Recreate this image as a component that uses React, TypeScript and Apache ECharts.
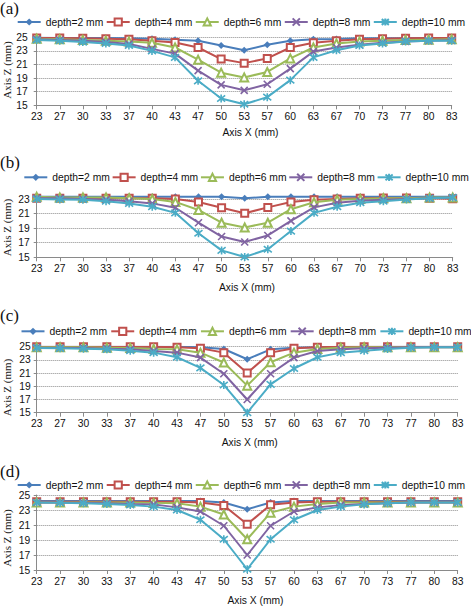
import React, { useEffect, useRef } from 'react';
import * as echarts from 'echarts';

// ---------- data ----------
const categories = ['23', '27', '30', '33', '37', '40', '43', '47', '50', '53', '57', '60', '63', '67', '70', '73', '77', '80', '83'];
const seriesNames = ['depth=2 mm', 'depth=4 mm', 'depth=6 mm', 'depth=8 mm', 'depth=10 mm'];
const panelLabels = ['(a)', '(b)', '(c)', '(d)'];
const xTitle = 'Axis X (mm)';
const yTitle = 'Axis Z (mm)';
const yMin = 15;
const yInterval = 2;
const yMaxA = 25;
const yMaxB = 23.4;
const yMaxC = 25;
const yMaxD = 25;

// panel (a)
const a2 = [24.95, 24.9, 24.9, 24.9, 24.85, 24.8, 24.65, 24.5, 23.8, 23.1, 23.9, 24.5, 24.7, 24.75, 24.85, 24.85, 24.85, 24.9, 24.9];
const a4 = [24.9, 24.9, 24.85, 24.8, 24.7, 24.5, 24.25, 23.5, 21.8, 21.2, 21.9, 23.5, 24.2, 24.5, 24.7, 24.8, 24.85, 24.9, 24.9];
const a6 = [24.8, 24.7, 24.6, 24.5, 24.4, 24.2, 23.5, 21.7, 19.8, 19.1, 19.9, 21.9, 23.5, 24.1, 24.4, 24.5, 24.6, 24.65, 24.7];
const a8 = [24.7, 24.6, 24.5, 24.3, 24.0, 23.3, 22.6, 20.1, 18.0, 17.2, 18.1, 20.4, 22.9, 23.5, 23.9, 24.2, 24.4, 24.5, 24.55];
const a10 = [24.6, 24.5, 24.3, 24.1, 23.8, 23.0, 22.05, 18.6, 16.0, 15.15, 16.2, 18.7, 22.05, 23.1, 23.8, 24.1, 24.4, 24.5, 24.5];

// panel (b)
const b2 = [23.3, 23.3, 23.3, 23.3, 23.3, 23.3, 23.3, 23.3, 23.3, 23.1, 23.3, 23.3, 23.3, 23.3, 23.3, 23.3, 23.3, 23.3, 23.3];
const b4 = [23.1, 23.1, 23.1, 23.1, 23.1, 23.1, 23.0, 22.6, 21.8, 21.05, 21.85, 22.6, 22.9, 23.0, 23.1, 23.15, 23.15, 23.1, 23.05];
const b6 = [23.3, 23.2, 23.2, 23.2, 23.1, 23.0, 22.6, 21.5, 19.75, 19.1, 19.75, 21.6, 22.55, 22.9, 23.0, 23.1, 23.1, 23.2, 23.2];
const b8 = [23.1, 23.1, 23.0, 22.9, 22.7, 22.4, 21.8, 19.75, 17.85, 17.1, 18.0, 20.0, 21.85, 22.5, 22.75, 22.9, 23.0, 23.1, 23.2];
const b10 = [23.0, 22.95, 22.9, 22.7, 22.4, 21.95, 21.1, 18.3, 15.95, 15.05, 16.1, 18.6, 21.1, 21.95, 22.5, 22.7, 22.95, 23.1, 23.2];

// panel (c)
const c2 = [25, 25, 25, 25, 25, 25, 25, 24.9, 24.65, 23.1, 24.6, 24.85, 24.9, 24.95, 25, 25, 25, 25, 25];
const c4 = [25, 25, 25, 25, 25, 25, 24.9, 24.75, 24.1, 21.0, 24.1, 24.75, 24.9, 25, 25, 25, 25, 25, 25];
const c6 = [24.9, 24.9, 24.9, 24.85, 24.8, 24.65, 24.6, 24.1, 22.6, 19.1, 22.65, 24.1, 24.65, 24.85, 24.9, 24.9, 24.9, 24.9, 24.9];
const c8 = [24.85, 24.8, 24.8, 24.7, 24.6, 24.35, 24.1, 23.35, 20.9, 17.0, 20.9, 23.35, 24.35, 24.6, 24.75, 24.85, 24.9, 24.9, 24.9];
const c10 = [24.8, 24.75, 24.7, 24.6, 24.4, 24.1, 23.4, 21.8, 19.2, 15.0, 19.3, 21.7, 23.4, 24.1, 24.4, 24.65, 24.85, 24.9, 24.9];

// panel (d)
const d2 = [24.2, 24.2, 24.2, 24.2, 24.2, 24.2, 24.2, 24.2, 24.0, 23.1, 24.0, 24.2, 24.2, 24.2, 24.2, 24.2, 24.2, 24.2, 24.2];
const d4 = [24.1, 24.1, 24.1, 24.1, 24.1, 24.1, 24.1, 24.0, 23.6, 21.1, 23.7, 24.0, 24.1, 24.1, 24.1, 24.1, 24.1, 24.1, 24.1];
const d6 = [24.0, 24.0, 24.0, 24.0, 24.0, 23.95, 23.9, 23.45, 22.4, 19.1, 22.65, 23.45, 23.8, 24.0, 24.0, 24.0, 24.0, 24.0, 24.0];
const d8 = [24.0, 24.0, 23.95, 23.9, 23.8, 23.75, 23.35, 22.8, 20.9, 17.0, 20.9, 22.8, 23.35, 23.65, 23.8, 23.9, 24.0, 24.0, 24.0];
const d10 = [24.0, 23.95, 23.9, 23.8, 23.67, 23.45, 23.0, 21.7, 19.1, 15.1, 19.1, 21.7, 23.0, 23.45, 23.75, 23.9, 24.0, 24.0, 24.0];

const panelData = [
  [a2, a4, a6, a8, a10],
  [b2, b4, b6, b8, b10],
  [c2, c4, c6, c8, c10],
  [d2, d4, d6, d8, d10],
];
const panelYMax = [yMaxA, yMaxB, yMaxC, yMaxD];

// ---------- layout & style ----------
const W = 471;
const H = 606;
const SANS = 'Liberation Sans, Arial, sans-serif';
const SERIF = 'Liberation Serif, Times New Roman, serif';
const FS = 10.3;

const layout = [
  { gridLeft: 36.7, gridRight: 19.3, gridTop: 37.3, gridHeight: 68, labelTop: 0, legendLeft: 16.7, legendTop: 17, legendGap: 2.5, legendW: 23, yLabMargin: 9, yTitleX: 6.7, yTitleY: 70, xTitleX: 250.5, xTitleY: 132.7 },
  { gridLeft: 36.7, gridRight: 18.3, gridTop: 196.1, gridHeight: 61.2, labelTop: 154, legendLeft: 23.3, legendTop: 172.3, legendGap: 1.8, legendW: 23, yLabMargin: 7, yTitleX: 6.7, yTitleY: 227.5, xTitleX: 247, xTitleY: 287.7 },
  { gridLeft: 36.7, gridRight: 13.3, gridTop: 346.7, gridHeight: 66, labelTop: 307, legendLeft: 20.5, legendTop: 326.3, legendGap: 3.2, legendW: 23, yLabMargin: 6, yTitleX: 6.7, yTitleY: 387.5, xTitleX: 249.7, xTitleY: 442.7 },
  { gridLeft: 36.7, gridRight: 13.3, gridTop: 495, gridHeight: 75, labelTop: 463, legendLeft: 16.7, legendTop: 480, legendGap: 2.5, legendW: 23, yLabMargin: 6.5, yTitleX: 6.7, yTitleY: 538, xTitleX: 255.5, xTitleY: 600.7 },
];

const colors = ['#4a7ebb', '#c0504d', '#9bbb59', '#8064a2', '#4bacc6'];
const X_PATH = 'path://M0,0L10,10M10,0L0,10';
const STAR_PATH = 'path://M1,1L9,9M9,1L1,9M5,0L5,10';
const symbols = ['diamond', 'emptyRect', 'emptyTriangle', X_PATH, STAR_PATH];
const symbolSizes = [7, 7, 8, 7, 8];

const axisGray = '#8a8a8a';

export default function App() {
  const ref = useRef<HTMLDivElement>(null);

  useEffect(() => {
    if (!ref.current) return;
    const chart = echarts.init(ref.current, undefined, { renderer: 'svg' });

    const grid = layout.map((p) => ({
      left: p.gridLeft,
      right: p.gridRight,
      top: p.gridTop,
      height: p.gridHeight,
      containLabel: false,
    }));

    const xAxis = layout.map((p, i) => ({
      type: 'category',
      gridIndex: i,
      data: categories,
      boundaryGap: false,
      axisLine: { show: true, lineStyle: { color: axisGray, width: 1 } },
      axisTick: { show: true, length: 4, alignWithLabel: true, interval: 0, lineStyle: { color: axisGray } },
      axisLabel: { interval: 0, margin: 6, fontSize: FS, fontFamily: SANS, color: '#111' },
      splitLine: { show: false },
    }));

    const yAxis = layout.map((p, i) => ({
      type: 'value',
      gridIndex: i,
      min: yMin,
      max: panelYMax[i],
      interval: yInterval,
      axisLine: { show: true, lineStyle: { color: axisGray, width: 1 } },
      axisTick: { show: true, length: 3, lineStyle: { color: axisGray } },
      axisLabel: {
        margin: p.yLabMargin,
        fontSize: FS,
        fontFamily: SANS,
        color: '#111',
        formatter: (v: number) => (Number.isInteger(v) ? String(v) : ''),
      },
      splitLine: {
        show: true,
        showMaxLine: Number.isInteger(panelYMax[i]),
        lineStyle: { type: 'dotted', color: '#8c8c8c', width: 1 },
      },
    }));

    const series: any[] = [];
    panelData.forEach((rows, i) => {
      rows.forEach((vals, j) => {
        const isStroke = j >= 3;
        series.push({
          type: 'line',
          name: seriesNames[j],
          xAxisIndex: i,
          yAxisIndex: i,
          data: vals,
          symbol: symbols[j],
          symbolSize: symbolSizes[j],
          showAllSymbol: true,
          lineStyle: { width: 2, color: colors[j] },
          itemStyle: {
            color: colors[j],
            borderColor: colors[j],
            borderWidth: isStroke ? 1.6 : j === 0 ? 0 : 1.3,
          },
          emphasis: { disabled: true },
          z: 2 + j,
        });
      });
    });

    const legend = layout.map((p) => ({
      data: seriesNames,
      left: p.legendLeft,
      top: p.legendTop,
      width: 600,
      orient: 'horizontal',
      padding: 0,
      itemGap: p.legendGap,
      itemWidth: p.legendW,
      itemHeight: 9,
      textStyle: { fontSize: FS, fontFamily: SANS, color: '#111' },
      selectedMode: false,
    }));

    const graphic: any[] = [];
    layout.forEach((p, i) => {
      graphic.push({
        type: 'text',
        left: 0,
        top: p.labelTop,
        style: { text: panelLabels[i], font: `17px ${SERIF}`, fill: '#111' },
      });
      graphic.push({
        type: 'text',
        x: p.yTitleX,
        y: p.yTitleY,
        rotation: Math.PI / 2,
        style: { text: yTitle, font: `11px ${SERIF}`, fill: '#222', align: 'center', verticalAlign: 'middle' },
      });
      graphic.push({
        type: 'text',
        x: p.xTitleX,
        y: p.xTitleY,
        style: { text: xTitle, font: `${FS}px ${SANS}`, fill: '#111', align: 'center', verticalAlign: 'middle' },
      });
    });

    chart.setOption({
      animation: false,
      backgroundColor: '#ffffff',
      grid,
      xAxis,
      yAxis,
      legend,
      series,
      graphic,
    } as any);

    return () => {
      chart.dispose();
    };
  }, []);

  return (
    <div
      ref={ref}
      style={{ position: 'fixed', left: 0, top: 0, width: W, height: H, background: '#fff' }}
    />
  );
}
